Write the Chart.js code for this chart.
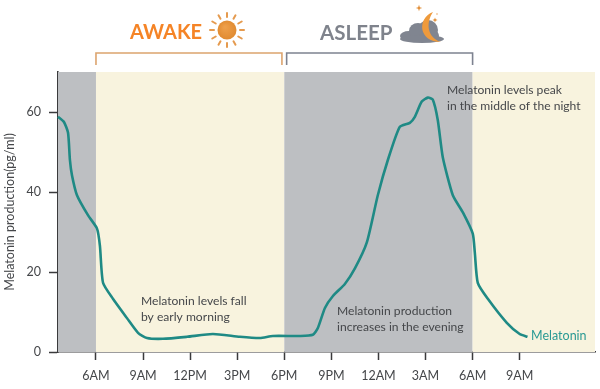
<!DOCTYPE html>
<html><head><meta charset="utf-8">
<script src="https://cdn.jsdelivr.net/npm/chart.js@4"></script>
<style>html,body{margin:0;padding:0;background:#fff}#w{width:600px;height:389px}</style>
</head><body><div id="w"><canvas id="c" width="600" height="389"></canvas></div>
<script>
// hours since midnight of day one (30 = 6AM next day)
const hours=[3.58,3.96,4.22,4.34,4.47,4.79,5.49,6.06,6.25,6.45,7.08,7.97,8.68,9.25,10.27,11.8,13.45,15.17,16.45,17.27,19,19.82,20.14,20.59,21.1,21.86,22.5,23.26,23.96,24.6,25.36,26,26.32,26.76,27.15,27.46,27.78,28.1,28.74,29.38,30.01,30.14,30.33,30.97,32.18,33,33.5];
const melatonin=[58.8,57.5,54.8,48,44.2,39.2,34.2,30.9,26.6,17.3,13.3,8.5,4.8,3.5,3.3,3.8,4.5,3.8,3.5,4,4,4.3,6,11,14,17,20.9,27.4,39.2,48,56.3,57.3,58.8,62.6,63.6,63.1,58,48.7,39.2,34.9,29.6,24.9,17.3,13.3,7.3,4.5,3.8];
const tickHours=[6,9,12,15,18,21,24,27,30,33];
const tickLabels=["6AM","9AM","12PM","3PM","6PM","9PM","12AM","3AM","6AM","9AM"];
const yTicks=[0,20,40,60];
const xMin=3.58,xMax=37.8,yMax=70;
const bandEdges=[3.58,6,18,30,37.8];
const bandColors=["#bdbfc2","#f8f3de","#bdbfc2","#f8f3de"];
const FONT='Lato, sans-serif';

const bands={id:'bands',beforeDatasetsDraw(ch){
  const {ctx,chartArea:a,scales:{x}}=ch;ctx.save();
  bandColors.forEach((col,i)=>{const l=x.getPixelForValue(bandEdges[i]),r=x.getPixelForValue(bandEdges[i+1]);
    ctx.fillStyle=col;ctx.fillRect(l,a.top,r-l,a.bottom-a.top);});
  ctx.restore();}};

function text(ctx,s,x,y,font,col,align){ctx.font=font;ctx.fillStyle=col;ctx.textAlign=align||'left';ctx.textBaseline='middle';ctx.fillText(s,x,y);}
function sun(ctx,cx,cy){
  ctx.strokeStyle='#e59a4e';ctx.lineWidth=2;ctx.lineCap='round';
  for(let i=0;i<12;i++){const t=i*Math.PI/6;ctx.beginPath();ctx.moveTo(cx+13*Math.cos(t),cy+13*Math.sin(t));ctx.lineTo(cx+17*Math.cos(t),cy+17*Math.sin(t));ctx.stroke();}
  const g=ctx.createRadialGradient(cx-2,cy-3,1,cx,cy,10);g.addColorStop(0,'#ee9f4a');g.addColorStop(1,'#e08a30');
  ctx.fillStyle=g;ctx.beginPath();ctx.arc(cx,cy,9.5,0,7);ctx.fill();
}
function moon(ctx){
  ctx.fillStyle='#808590';
  [[409,36,9,5],[418,31,9,8],[428,30,10,10],[433,36,6,6]].forEach(e=>{ctx.beginPath();ctx.ellipse(e[0],e[1],e[2],e[3],0,0,7);ctx.fill();});
  ctx.beginPath();ctx.ellipse(422,39,22,4,0,0,7);ctx.fill();
  ctx.fillStyle='#ee9a3c';ctx.beginPath();ctx.moveTo(433,12);
  ctx.bezierCurveTo(417,18,418,42,441,42);
  ctx.bezierCurveTo(428,38,425,24,433,12);ctx.fill();
  [[419,8,3.2],[435,20,2.6],[437,14,1.2]].forEach(s=>{ctx.fillStyle='#e08a30';ctx.beginPath();
    for(let i=0;i<8;i++){const r=i%2?s[2]*0.35:s[2],t=i*Math.PI/4;ctx.lineTo(s[0]+r*Math.cos(t),s[1]+r*Math.sin(t));}
    ctx.closePath();ctx.fill();});
}
const notes={id:'notes',afterDatasetsDraw(ch){
  const {ctx,scales:{x}}=ch;ctx.save();
  const dark='#45474a',f='12.1px '+FONT;
  text(ctx,"Melatonin levels fall",141,301,f,dark);
  text(ctx,"by early morning",141,317,f,dark);
  text(ctx,"Melatonin production",337,311,f,dark);
  text(ctx,"increases in the evening",337,327,f,dark);
  text(ctx,"Melatonin levels peak",447,90,f,dark);
  text(ctx,"in the middle of the night",447,106,f,dark);
  text(ctx,"Melatonin",531,336,'12.5px '+FONT,'#2a9a94');
  text(ctx,"AWAKE",130,33,'700 20px '+FONT,'#f58426');
  text(ctx,"ASLEEP",320,33,'700 20.5px '+FONT,'#7f838c');
  sun(ctx,227,30);moon(ctx);
  ctx.lineWidth=1.6;ctx.lineCap='butt';
  const br=(a,b,col)=>{ctx.strokeStyle=col;ctx.beginPath();ctx.moveTo(x.getPixelForValue(a),65);ctx.lineTo(x.getPixelForValue(a),53);ctx.lineTo(x.getPixelForValue(b),53);ctx.lineTo(x.getPixelForValue(b),65);ctx.stroke();};
  br(6,17.85,'#dca46e');br(18.15,30,'#7d8290');
  ctx.restore();}};

new Chart(document.getElementById('c'),{
  type:'line',
  data:{datasets:[{data:hours.map((h,i)=>({x:h,y:melatonin[i]})),borderColor:'#1f8a85',borderWidth:2.6,pointRadius:0,tension:0.2,fill:false,clip:false}]},
  options:{responsive:false,animation:false,
    layout:{padding:{top:72,right:5,left:0,bottom:0}},
    plugins:{legend:{display:false},tooltip:{enabled:false},title:{display:false}},
    scales:{
      x:{type:'linear',min:xMin,max:xMax,
        afterBuildTicks(s){s.ticks=tickHours.map(v=>({value:v}));},
        afterFit(s){s.height=37;},
        grid:{drawOnChartArea:false,drawTicks:true,tickLength:8,tickColor:'#3a3a3c',tickWidth:1.5},
        border:{color:'#3a3a3c',width:1.6},
        ticks:{autoSkip:false,maxRotation:0,padding:8,color:'#45474a',font:{family:FONT,size:12.5},
          callback(v){return tickLabels[tickHours.indexOf(v)];}}},
      y:{min:0,max:yMax,
        afterBuildTicks(s){s.ticks=yTicks.map(v=>({value:v}));},
        afterFit(s){s.width=58;},
        grid:{drawOnChartArea:false,drawTicks:true,tickLength:9,tickColor:'#3a3a3c',tickWidth:1.5},
        border:{color:'#3a3a3c',width:1.6},
        ticks:{padding:8,color:'#45474a',font:{family:FONT,size:12.5}},
        title:{display:true,text:'Melatonin production(pg/ml)',color:'#45474a',font:{family:FONT,size:12.5},padding:{top:2,bottom:0}}}
    }},
  plugins:[bands,notes]
});
</script></body></html>
